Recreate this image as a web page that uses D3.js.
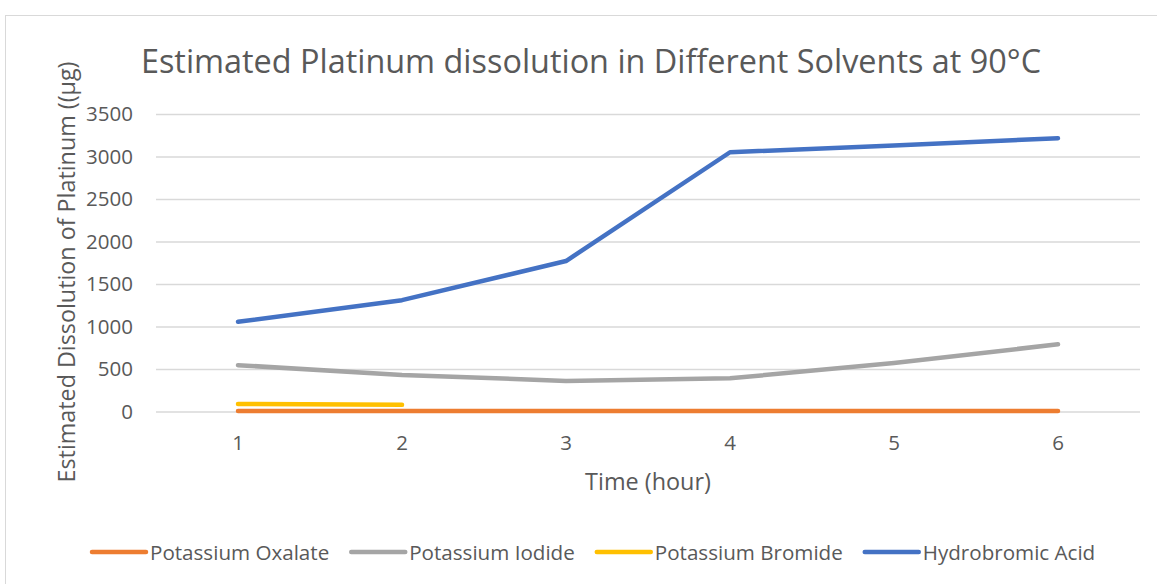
<!DOCTYPE html>
<html>
<head>
<meta charset="utf-8">
<script src="https://cdn.jsdelivr.net/npm/d3@7"></script>
<style>
	body { margin: 0; background: #fff; }
	text { font-family: "Open Sans", "Noto Sans", sans-serif; fill: #595959; }
</style>
</head>
<body>
<script>
// data //{{{
var hours = [1, 2, 3, 4, 5, 6];
var yTicks = [0, 500, 1000, 1500, 2000, 2500, 3000, 3500];
var potassiumOxalate = [5, 5, 5, 5, 5, 5];
var potassiumIodide = [545, 430, 360, 390, 570, 790];
var potassiumBromide = [88, 78];
var hydrobromicAcid = [1055, 1310, 1770, 3050, 3130, 3215];
var seriesNames = ["Potassium Oxalate", "Potassium Iodide", "Potassium Bromide", "Hydrobromic Acid"];
var seriesColors = ["#ED7D31", "#A5A5A5", "#FFC000", "#4472C4"];
//}}}

var W = 1157, H = 584;
var svg = d3.select('body').append('svg').attr('width', W).attr('height', H);

// frame
svg.append('rect').attr('x', 5.5).attr('y', 15.5).attr('width', W).attr('height', H)
	.attr('fill', 'none').attr('stroke', '#d9d9d9').attr('stroke-width', 1);

var x = d3.scaleBand().domain(hours).range([156, 1140]);
var y = d3.scaleLinear().domain([0, 3500]).range([411.5, 114]);

// gridlines + y ticks //{{{
var gy = svg.append('g').attr('transform', 'translate(156,0)')
	.call(d3.axisLeft(y).tickValues(yTicks).tickFormat(d3.format('d')).tickSize(-(1140 - 156)).tickPadding(23));
gy.select('.domain').remove();
gy.selectAll('line').attr('stroke', '#d9d9d9').attr('stroke-width', 1.3);
gy.selectAll('text').attr('font-size', '20.5px').attr('fill', '#595959').style('font-family', null);
//}}}

// x ticks //{{{
var gx = svg.append('g').attr('transform', 'translate(0,411.5)')
	.call(d3.axisBottom(x).tickSize(0).tickPadding(24));
gx.select('.domain').remove();
gx.selectAll('text').attr('font-size', '20.5px').attr('fill', '#595959').style('font-family', null);
//}}}

// lines //{{{
var line = d3.line()
	.x(function(d, i) { return x(hours[i]) + x.bandwidth() / 2; })
	.y(function(d) { return y(d); });

var allSeries = [potassiumOxalate, potassiumIodide, potassiumBromide, hydrobromicAcid];
allSeries.forEach(function(s, k) {
	svg.append('path').attr('d', line(s))
		.attr('fill', 'none').attr('stroke', seriesColors[k]).attr('stroke-width', 4.5)
		.attr('stroke-linecap', 'round').attr('stroke-linejoin', 'round');
});
//}}}

// titles //{{{
svg.append('text').attr('x', 591).attr('y', 73).attr('text-anchor', 'middle')
	.attr('font-size', '32.4px').text('Estimated Platinum dissolution in Different Solvents at 90°C');
svg.append('text').attr('x', 648).attr('y', 490).attr('text-anchor', 'middle')
	.attr('font-size', '23.4px').text('Time (hour)');
svg.append('text').attr('transform', 'translate(75,272) rotate(-90)').attr('text-anchor', 'middle')
	.attr('font-size', '23.3px').text('Estimated Dissolution of Platinum ((µg)');
//}}}

// legend //{{{
var lg = svg.append('g');
var lx = 92, ly = 552;
seriesNames.forEach(function(n, k) {
	lg.append('line').attr('x1', lx).attr('x2', lx + 54).attr('y1', ly).attr('y2', ly)
		.attr('stroke', seriesColors[k]).attr('stroke-width', 4.5).attr('stroke-linecap', 'round');
	var t = lg.append('text').attr('x', lx + 58).attr('y', ly + 7.5).attr('font-size', '20.6px').text(n);
	lx += 58 + t.node().getComputedTextLength() + 22;
});
//}}}
</script>
</body>
</html>
